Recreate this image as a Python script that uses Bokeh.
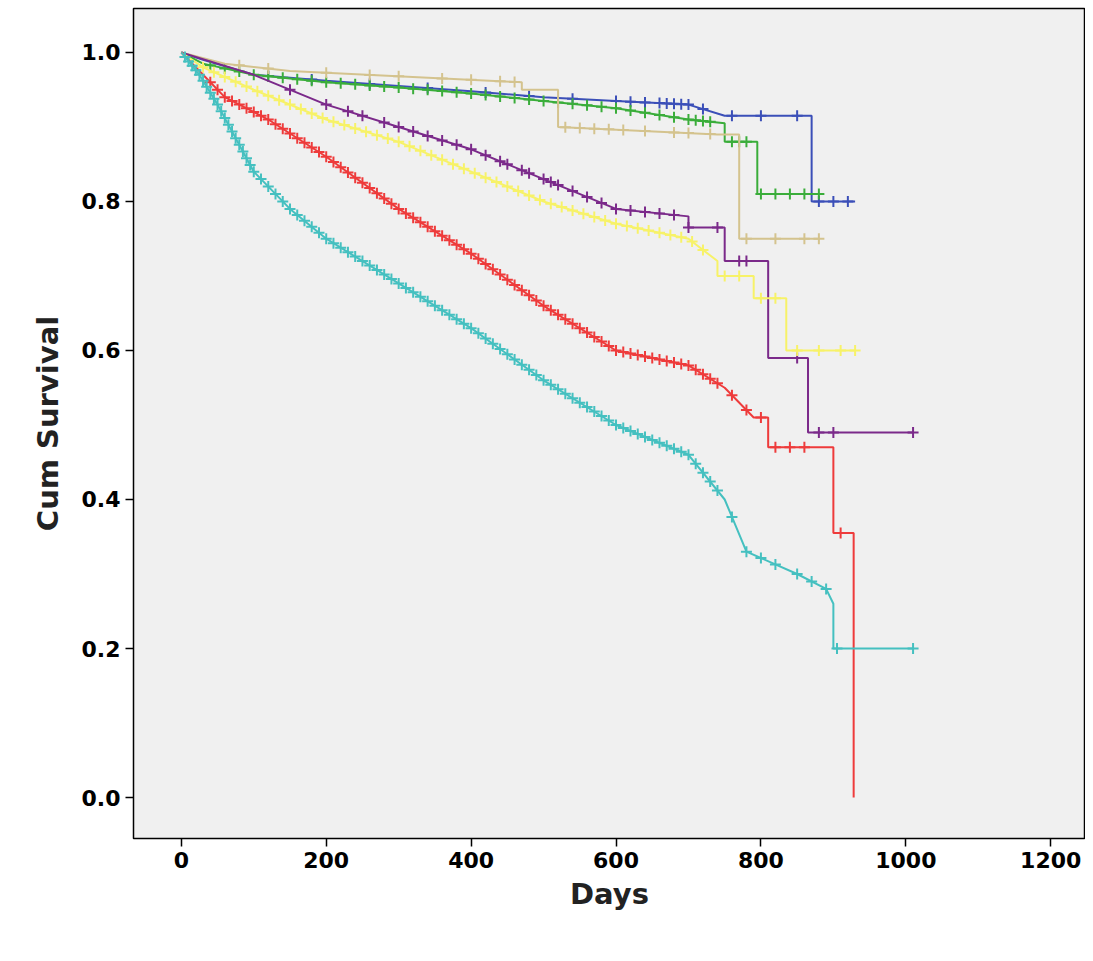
import numpy as np
from bokeh.plotting import figure
from bokeh.models import Range1d, FixedTicker, PrintfTickFormatter
from bokeh.embed import file_html
from bokeh.resources import INLINE

# survival curves as vertices (repeated day = vertical drop), plus censor days
curves = {
    "blue": dict(color="#3b4fb8",
        days=[0, 30, 100, 200, 300, 400, 500, 600, 700, 750, 870, 870, 930],
        surv=[1.0, 0.99, 0.97, 0.962, 0.955, 0.948, 0.94, 0.935, 0.93, 0.915, 0.915, 0.80, 0.80],
        cens=[120, 180, 260, 340, 420, 480, 540, 600, 620, 640, 660, 670, 680, 690, 700, 720, 760, 800, 850, 880, 900, 920]),
    "green": dict(color="#3aad3a",
        days=[0, 30, 100, 200, 300, 400, 500, 600, 700, 750, 750, 780, 795, 795, 880],
        surv=[1.0, 0.985, 0.97, 0.96, 0.953, 0.945, 0.935, 0.925, 0.91, 0.905, 0.88, 0.88, 0.88, 0.81, 0.81],
        cens=[40, 60, 80, 100, 120, 140, 160, 180, 200, 220, 240, 260, 280, 300, 320, 340, 360, 380, 400, 420, 440, 460, 480, 500, 520, 540, 560, 580, 600, 620, 640, 660, 680, 700, 710, 720, 730, 760, 770, 780, 800, 820, 840, 860, 880]),
    "tan": dict(color="#d4c38e",
        days=[0, 20, 60, 150, 470, 470, 520, 520, 740, 770, 770, 880],
        surv=[1.0, 0.995, 0.985, 0.975, 0.96, 0.95, 0.95, 0.90, 0.89, 0.89, 0.75, 0.75],
        cens=[80, 120, 200, 260, 300, 360, 400, 440, 460, 530, 550, 570, 590, 610, 640, 680, 700, 730, 780, 820, 860, 880]),
    "purple": dict(color="#7b2a8a",
        days=[0, 50, 100, 200, 300, 400, 500, 600, 700, 700, 750, 750, 790, 810, 810, 865, 865, 1010],
        surv=[1.0, 0.985, 0.97, 0.93, 0.90, 0.87, 0.83, 0.79, 0.78, 0.765, 0.765, 0.72, 0.72, 0.72, 0.59, 0.59, 0.49, 0.49],
        cens=[150, 200, 230, 250, 280, 300, 320, 340, 360, 380, 400, 420, 440, 450, 470, 480, 500, 510, 520, 540, 560, 580, 600, 620, 640, 660, 680, 700, 740, 770, 780, 850, 880, 900, 1010]),
    "yellow": dict(color="#f7f268",
        days=[0, 30, 100, 200, 300, 400, 500, 600, 700, 740, 740, 790, 790, 835, 835, 930],
        surv=[1.0, 0.98, 0.95, 0.91, 0.88, 0.84, 0.80, 0.77, 0.75, 0.72, 0.70, 0.70, 0.67, 0.67, 0.60, 0.60],
        cens=[30, 45, 60, 75, 90, 105, 120, 135, 150, 165, 180, 195, 210, 225, 240, 255, 270, 285, 300, 315, 330, 345, 360, 375, 390, 405, 420, 435, 450, 465, 480, 495, 510, 525, 540, 555, 570, 585, 600, 615, 630, 645, 660, 675, 690, 705, 720, 750, 770, 800, 820, 850, 880, 910, 930]),
    "red": dict(color="#ee3b3b",
        days=[0, 30, 60, 120, 200, 300, 400, 500, 600, 700, 750, 790, 810, 810, 900, 900, 928, 928],
        surv=[1.0, 0.97, 0.94, 0.91, 0.86, 0.79, 0.73, 0.66, 0.60, 0.58, 0.55, 0.51, 0.51, 0.47, 0.47, 0.355, 0.355, 0.0],
        cens=[40, 50, 60, 70, 80, 90, 100, 110, 120, 130, 140, 150, 160, 170, 180, 190, 200, 210, 220, 230, 240, 250, 260, 270, 280, 290, 300, 310, 320, 330, 340, 350, 360, 370, 380, 390, 400, 410, 420, 430, 440, 450, 460, 470, 480, 490, 500, 510, 520, 530, 540, 550, 560, 570, 580, 590, 600, 610, 620, 630, 640, 650, 660, 670, 680, 690, 700, 710, 720, 730, 740, 760, 780, 800, 820, 840, 860, 910]),
    "cyan": dict(color="#45c0c0",
        days=[0, 25, 50, 100, 150, 200, 300, 400, 500, 600, 700, 750, 780, 850, 890, 900, 900, 1010],
        surv=[1.0, 0.97, 0.93, 0.84, 0.79, 0.75, 0.69, 0.63, 0.56, 0.50, 0.46, 0.40, 0.33, 0.30, 0.28, 0.26, 0.20, 0.20],
        cens=[5, 10, 15, 20, 25, 30, 35, 40, 45, 50, 55, 60, 65, 70, 75, 80, 85, 90, 95, 100, 110, 120, 130, 140, 150, 160, 170, 180, 190, 200, 210, 220, 230, 240, 250, 260, 270, 280, 290, 300, 310, 320, 330, 340, 350, 360, 370, 380, 390, 400, 410, 420, 430, 440, 450, 460, 470, 480, 490, 500, 510, 520, 530, 540, 550, 560, 570, 580, 590, 600, 610, 620, 630, 640, 650, 660, 670, 680, 690, 700, 710, 720, 730, 740, 760, 780, 800, 820, 850, 870, 890, 905, 1010]),
}

p = figure(width=1085, height=945, output_backend="svg", toolbar_location=None,
           x_range=Range1d(-66, 1248), y_range=Range1d(-0.055, 1.059),
           min_border_left=133, min_border_bottom=107, min_border_top=8, min_border_right=0)
p.background_fill_color = "#f0f0f0"
p.outline_line_color = "black"
p.outline_line_width = 1.5
p.grid.visible = False

for c in curves.values():
    d = np.array(c["days"], float)
    s = np.array(c["surv"], float)
    p.line(d, s, color=c["color"], line_width=2)
    cd = np.array(c["cens"], float)
    ys = np.interp(cd, d, s)
    p.scatter(cd, ys, marker="cross", size=11, color=c["color"], line_width=2)

p.xaxis.ticker = FixedTicker(ticks=[0, 200, 400, 600, 800, 1000, 1200])
p.yaxis.ticker = FixedTicker(ticks=[0.0, 0.2, 0.4, 0.6, 0.8, 1.0])
p.yaxis.formatter = PrintfTickFormatter(format="%.1f")
p.xaxis.axis_label = "Days"
p.yaxis.axis_label = "Cum Survival"
for ax in (p.xaxis, p.yaxis):
    ax.axis_label_text_font = "DejaVu Sans"
    ax.axis_label_text_font_size = "29px"
    ax.axis_label_text_font_style = "bold"
    ax.axis_label_text_color = "#222222"
    ax.major_label_text_font = "DejaVu Sans"
    ax.major_label_text_font_size = "22px"
    ax.major_label_text_font_style = "bold"
    ax.major_label_text_color = "black"
    ax.major_tick_out = 8
    ax.major_tick_in = 0
    ax.minor_tick_out = 0
    ax.minor_tick_in = 0
    ax.axis_line_color = None
    ax.major_tick_line_width = 1.5
p.xaxis.axis_label_standoff = 6
p.yaxis.axis_label_standoff = 14

open("out.html", "w").write(file_html(p, INLINE))
